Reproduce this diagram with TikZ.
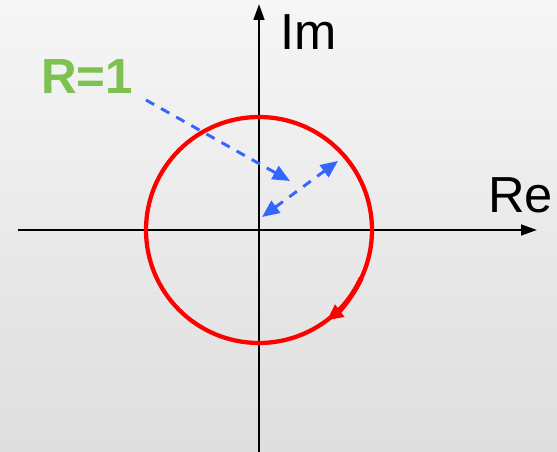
\documentclass[tikz,border=0pt]{standalone}
\usepackage{fontspec}
\setmainfont{Liberation Sans}
\usetikzlibrary{arrows.meta}
\definecolor{rred}{RGB}{255,0,0}
\definecolor{rblue}{RGB}{51,102,255}
\definecolor{rgreen}{RGB}{125,194,80}
\definecolor{bgtop}{RGB}{246,246,246}
\definecolor{bgbot}{RGB}{222,222,222}
\begin{document}
\begin{tikzpicture}[x=0.75pt,y=-0.75pt,
  axis/.style={line width=1.9pt,-{Triangle[length=12pt,width=8pt]}},
  unit/.style={rred,line width=3.2pt},
  radius line/.style={rblue,line width=2.2pt,dash pattern=on 7pt off 6pt,>={Triangle[length=13pt,width=11pt]}},
  lbl/.style={inner sep=0pt,anchor=base west}]
\shade[top color=bgtop,bottom color=bgbot] (0,0) rectangle (557,452);
\useasboundingbox (0,0) rectangle (557,452);
\coordinate (O) at (259,230);
\coordinate (xl) at (18,230);
\coordinate (xr) at (537,230);
\coordinate (yb) at (259,452);
\coordinate (yt) at (259,4);
\draw[axis] (xl) -- (xr);
\draw[axis] (yb) -- (yt);
\node[lbl,font=\fontsize{38pt}{44pt}\selectfont] (im) at (280,50) {Im};
\node[lbl,font=\fontsize{38pt}{44pt}\selectfont] (re) at (488,213) {Re};
\node[lbl,font=\fontsize{37pt}{44pt}\selectfont\bfseries,text=rgreen] (r1) at (41,94) {R=1};
\draw[unit] (O) circle[radius=113];
\draw[unit,line width=3.8pt,-{Triangle[length=12pt,width=11pt]}] ([shift={(25:113)}]O) arc[start angle=25,end angle=53,radius=113];
\coordinate (a1) at (146,100);
\coordinate (a2) at (290,181);
\coordinate (b1) at (262,217);
\coordinate (b2) at (338,161);
\draw[radius line,->] (a1) -- (a2);
\draw[radius line,<->] (b1) -- (b2);
\end{tikzpicture}
\end{document}
